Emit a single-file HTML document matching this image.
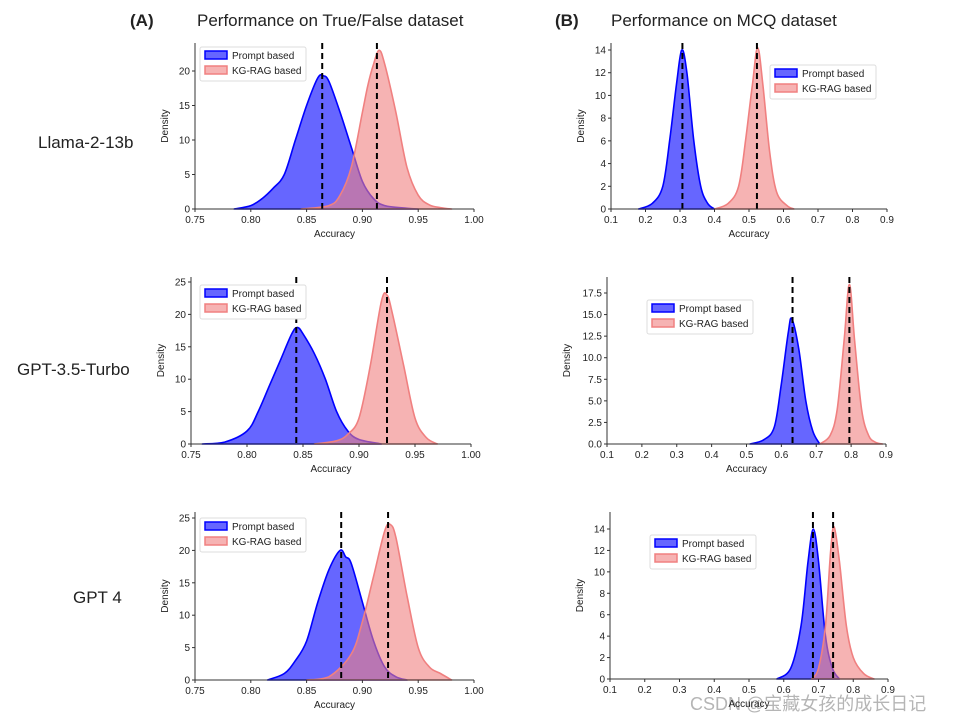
<!DOCTYPE html>
<html><head><meta charset="utf-8"><style>
body{margin:0;background:#fff;font-family:"Liberation Sans","Noto Sans CJK SC",sans-serif}
svg text{font-family:"Liberation Sans","Noto Sans CJK SC",sans-serif}
</style></head><body>
<svg id="fig" width="957" height="721" viewBox="0 0 957 721">
<text x="130" y="26" font-size="17" font-weight="bold" fill="#222">(A)</text>
<text x="197" y="26" font-size="17" fill="#222">Performance on True/False dataset</text>
<text x="555" y="26" font-size="17" font-weight="bold" fill="#222">(B)</text>
<text x="611" y="26" font-size="17" fill="#222">Performance on MCQ dataset</text>
<text x="38" y="148" font-size="17" fill="#222">Llama-2-13b</text>
<text x="17" y="375" font-size="17" fill="#222">GPT-3.5-Turbo</text>
<text x="73" y="603" font-size="17" fill="#222">GPT 4</text>
<text x="690" y="710" font-size="18" fill="#b5b5b5">CSDN @宝藏女孩的成长日记</text>
</svg>
<script>
// data
const panelNames=["llama-tf","llama-mcq","gpt35-tf","gpt35-mcq","gpt4-tf","gpt4-mcq"];
const promptX=[
[0.785,0.80,0.81,0.82,0.83,0.84,0.85,0.86,0.865,0.87,0.88,0.89,0.90,0.91,0.92,0.94,0.95],
[0.18,0.22,0.25,0.27,0.29,0.305,0.32,0.34,0.36,0.38,0.40],
[0.76,0.78,0.80,0.81,0.82,0.83,0.84,0.845,0.85,0.86,0.87,0.88,0.89,0.90,0.92],
[0.51,0.55,0.58,0.60,0.62,0.63,0.65,0.67,0.69,0.71],
[0.815,0.83,0.84,0.85,0.86,0.87,0.88,0.885,0.89,0.90,0.91,0.92,0.93,0.94],
[0.58,0.62,0.65,0.67,0.685,0.70,0.72,0.74,0.76]];
const promptY=[
[0,0.5,1.5,3,5,10,15,19,19.3,18.5,14,9,4,1.5,0.5,0.1,0],
[0,0.5,2,6,11,14,12,6,2,0.5,0],
[0,0.3,2,5,9,13,17,18,17,14,10,5,2,0.7,0],
[0,0.5,2,7,13,14.5,11,5,1.5,0],
[0,1,3,6,12,17,20,19,18,12,6,2,0.5,0],
[0,1,5,11,14,11,4,1,0]];
const kgX=[
[0.845,0.87,0.88,0.89,0.90,0.905,0.91,0.915,0.92,0.93,0.94,0.95,0.96,0.97,0.98],
[0.40,0.44,0.47,0.49,0.51,0.525,0.54,0.56,0.58,0.61,0.63],
[0.86,0.88,0.89,0.90,0.91,0.92,0.925,0.93,0.94,0.95,0.96,0.97],
[0.71,0.74,0.76,0.78,0.795,0.81,0.83,0.85,0.87,0.89],
[0.85,0.87,0.89,0.90,0.91,0.92,0.925,0.93,0.94,0.95,0.96,0.97,0.98],
[0.68,0.70,0.72,0.735,0.745,0.76,0.78,0.80,0.83,0.86]];
const kgY=[
[0,0.5,2,6,14,18,21,23,21,14,6,2,0.6,0.2,0],
[0,0.5,2,6,11,14.2,11,5,1.5,0.3,0],
[0,0.5,1.5,4,12,22,23,20,12,4,1,0],
[0,1,4,12,18.5,12,4,1,0.2,0],
[0,0.5,4,9,16,23,24,22,13,5,2,1,0],
[0,1,5,12,14.2,11,5,2,0.5,0]];
const promptMean=[0.864,0.307,0.844,0.632,0.881,0.684];
const kgMean=[0.913,0.523,0.925,0.795,0.923,0.742];
const xTicksTF=[0.75,0.80,0.85,0.90,0.95,1.00];
const xTicksMCQ=[0.1,0.2,0.3,0.4,0.5,0.6,0.7,0.8,0.9];
const yTicks=[[0,5,10,15,20],[0,2,4,6,8,10,12,14],[0,5,10,15,20,25],[0,2.5,5,7.5,10,12.5,15,17.5],[0,5,10,15,20,25],[0,2,4,6,8,10,12,14]];
// layout
const geo=[
{x0:195,x1:474,xmin:0.75,xmax:1.0,base:209,yv:20,yp:71,top:43,leg:[200,47],yfmt:0},
{x0:611,x1:887,xmin:0.1,xmax:0.9,base:209,yv:14,yp:50,top:43,leg:[770,65],yfmt:0},
{x0:191,x1:471,xmin:0.75,xmax:1.0,base:444,yv:25,yp:282,top:277,leg:[200,285],yfmt:0},
{x0:607,x1:886,xmin:0.1,xmax:0.9,base:444,yv:17.5,yp:293,top:277,leg:[647,300],yfmt:1},
{x0:195,x1:474,xmin:0.75,xmax:1.0,base:680,yv:25,yp:518,top:512,leg:[200,518],yfmt:0},
{x0:610,x1:888,xmin:0.1,xmax:0.9,base:679,yv:14,yp:529,top:512,leg:[650,535],yfmt:0}];
const NS="http://www.w3.org/2000/svg";
const svg=document.getElementById('fig');
function mk(tag,attrs,parent){const e=document.createElementNS(NS,tag);for(const k in attrs)e.setAttribute(k,attrs[k]);parent.appendChild(e);return e;}
panelNames.forEach((pn,i)=>{
 const g=geo[i];
 const sx=v=>g.x0+(v-g.xmin)/(g.xmax-g.xmin)*(g.x1-g.x0);
 const sy=v=>g.base-(v/g.yv)*(g.base-g.yp);
 const grp=mk('g',{},svg);
 
 
 const tf=i%2===0;
 function area(xs,ys,fill,fo,stroke,nm){
  const P=xs.map((x,j)=>[sx(x),sy(ys[j])]);
  let d='M'+P[0][0].toFixed(1)+','+P[0][1].toFixed(1);
  for(let j=0;j<P.length-1;j++){
   const p0=P[Math.max(0,j-1)],p1=P[j],p2=P[j+1],p3=P[Math.min(P.length-1,j+2)];
   const c1=[p1[0]+(p2[0]-p0[0])/6,Math.min(g.base,p1[1]+(p2[1]-p0[1])/6)];
   const c2=[p2[0]-(p3[0]-p1[0])/6,Math.min(g.base,p2[1]-(p3[1]-p1[1])/6)];
   d+=' C'+c1[0].toFixed(1)+','+c1[1].toFixed(1)+' '+c2[0].toFixed(1)+','+c2[1].toFixed(1)+' '+p2[0].toFixed(1)+','+p2[1].toFixed(1);
  }
  d+='Z';
  const p=mk('path',{d:d,fill:fill,'fill-opacity':fo,stroke:stroke,'stroke-width':1.6,'stroke-linejoin':'round'},grp);
  
  
 }
 area(promptX[i],promptY[i],'#0000ff',0.6,'#0000ff','prompt-density');
 area(kgX[i],kgY[i],'#f08080',0.6,'#f08080','kg-rag-density');
 [promptMean[i],kgMean[i]].forEach((m,k)=>{
  const l=mk('line',{x1:sx(m),x2:sx(m),y1:g.top,y2:g.base,stroke:'#000','stroke-width':2,'stroke-dasharray':'6,4'},grp);
  
  
 });
 const ax=mk('line',{x1:g.x0,x2:g.x1,y1:g.base,y2:g.base,stroke:'#333','stroke-width':1},grp);
 
 
 const ay=mk('line',{x1:g.x0,x2:g.x0,y1:g.top,y2:g.base,stroke:'#333','stroke-width':1},grp);
 
 
 (tf?xTicksTF:xTicksMCQ).forEach(t=>{
  mk('line',{x1:sx(t),x2:sx(t),y1:g.base,y2:g.base+3,stroke:'#333'},grp);
  const tx=mk('text',{x:sx(t),y:g.base+14,'font-size':10,'text-anchor':'middle',fill:'#222'},grp);
  tx.textContent=tf?t.toFixed(2):t.toFixed(1);
  
  
 });
 yTicks[i].forEach(t=>{
  mk('line',{x1:g.x0-3,x2:g.x0,y1:sy(t),y2:sy(t),stroke:'#333'},grp);
  const tx=mk('text',{x:g.x0-5,y:sy(t)+3.5,'font-size':10,'text-anchor':'end',fill:'#222'},grp);
  tx.textContent=g.yfmt?t.toFixed(1):String(t);
  
  
 });
 const xl=mk('text',{x:(g.x0+g.x1)/2,y:g.base+28,'font-size':10,'text-anchor':'middle',fill:'#222'},grp);
 xl.textContent='Accuracy';
 
 
 const yx=g.x0-(g.yfmt?37:27), yy=(g.top+g.base)/2;
 const yl=mk('text',{x:yx,y:yy,'font-size':10,'text-anchor':'middle',fill:'#222',transform:'rotate(-90 '+yx+' '+yy+')'},grp);
 yl.textContent='Density';
 
 
 const [lx,ly]=g.leg;
 const lg=mk('g',{},grp);
 
 
 mk('rect',{x:lx,y:ly,width:106,height:34,fill:'#fff',stroke:'#ddd',rx:2},lg);
 [['Prompt based','#0000ff'],['KG-RAG based','#f08080']].forEach((e,k)=>{
  const it=mk('g',{},lg);
  
  
  mk('rect',{x:lx+5,y:ly+4+k*15,width:22,height:8,fill:e[1],'fill-opacity':0.6,stroke:e[1],'stroke-width':1.5},it);
  const t=mk('text',{x:lx+32,y:ly+12+k*15,'font-size':10,fill:'#222'},it);
  t.textContent=e[0];
 });
});
</script>
</body></html>
